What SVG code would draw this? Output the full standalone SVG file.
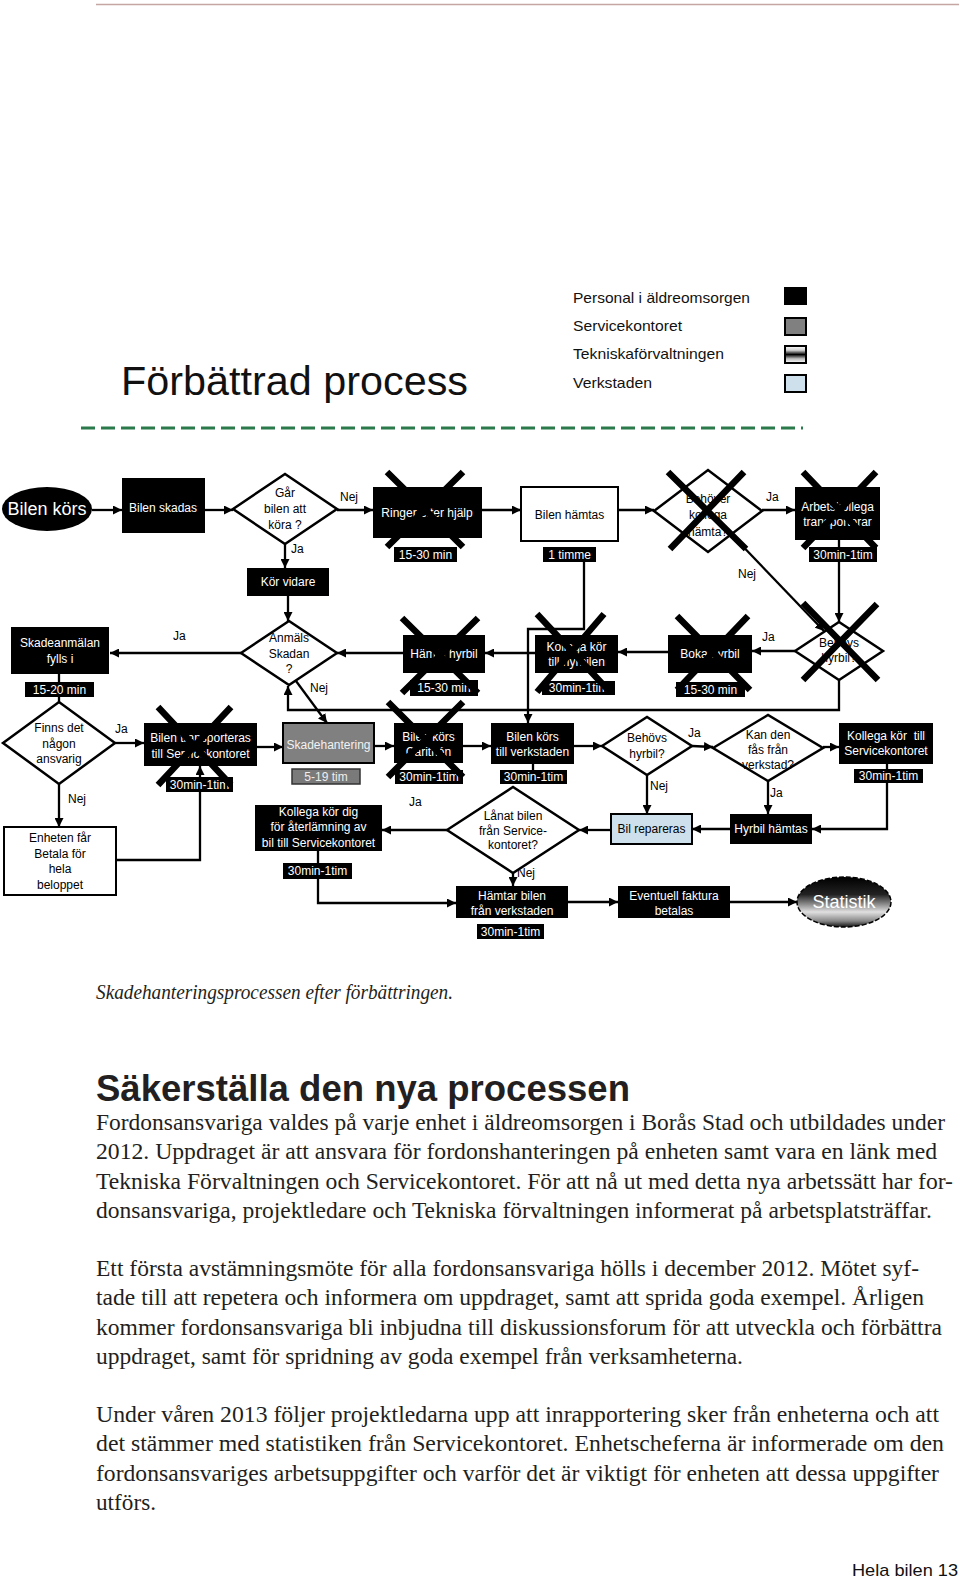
<svg xmlns="http://www.w3.org/2000/svg" width="960" height="1580" viewBox="0 0 960 1580">
<defs>
<style>
.bx{fill:#000}
.wb{fill:#fff;stroke:#000;stroke-width:2}
.dm{fill:#fff;stroke:#000;stroke-width:2.5}
.t{font-family:"Liberation Sans",Arial,sans-serif;font-size:12px;fill:#fff;text-anchor:middle}
.k{font-family:"Liberation Sans",Arial,sans-serif;font-size:12px;fill:#000;text-anchor:middle}
.yl{font-family:"Liberation Sans",Arial,sans-serif;font-size:12px;fill:#000}
.x{stroke:#000;stroke-width:6.5;fill:none}
.c{stroke:#000;stroke-width:2.3;fill:none}
.ca{stroke:#000;stroke-width:2.3;fill:none;marker-end:url(#ah)}
.lg{font-family:"Liberation Sans",Arial,sans-serif;font-size:15px;fill:#111}
.body{font-family:"Liberation Serif","Times New Roman",serif;font-size:22.5px;fill:#231f20}
</style>
<marker id="ah" viewBox="0 0 10 10" refX="10" refY="5" markerWidth="9" markerHeight="9" markerUnits="userSpaceOnUse" orient="auto"><path d="M0,0 L10,5 L0,10 z" fill="#000"/></marker>
<linearGradient id="tek" x1="0" y1="0" x2="0" y2="1"><stop offset="0" stop-color="#ffffff"/><stop offset="0.25" stop-color="#cfcfcf"/><stop offset="0.5" stop-color="#000"/><stop offset="0.75" stop-color="#bdbdbd"/><stop offset="1" stop-color="#ffffff"/></linearGradient>
<linearGradient id="stat" x1="0" y1="0" x2="0" y2="1"><stop offset="0" stop-color="#000"/><stop offset="0.35" stop-color="#222"/><stop offset="0.7" stop-color="#e0e0e0"/><stop offset="0.88" stop-color="#888"/><stop offset="1" stop-color="#111"/></linearGradient>
</defs>
<rect width="960" height="1580" fill="#fff"/>
<line x1="96" y1="4.5" x2="959" y2="4.5" stroke="#c4a6a2" stroke-width="1.3"/>

<g id="title">
<text x="121" y="395" font-family="'Liberation Sans',Arial,sans-serif" font-size="40" fill="#111" textLength="347" lengthAdjust="spacingAndGlyphs">Förbättrad process</text>
</g>
<g id="legend">
<text class="lg" x="573" y="303" textLength="177" lengthAdjust="spacingAndGlyphs">Personal i äldreomsorgen</text>
<rect x="784" y="287" width="23" height="18" fill="#000"/>
<text class="lg" x="573" y="331" textLength="109" lengthAdjust="spacingAndGlyphs">Servicekontoret</text>
<rect x="785" y="318" width="21" height="17" fill="#808080" stroke="#000" stroke-width="2"/>
<text class="lg" x="573" y="359" textLength="151" lengthAdjust="spacingAndGlyphs">Tekniskaförvaltningen</text>
<rect x="785" y="346" width="21" height="17" fill="url(#tek)" stroke="#000" stroke-width="2"/>
<text class="lg" x="573" y="388" textLength="79" lengthAdjust="spacingAndGlyphs">Verkstaden</text>
<rect x="785" y="375" width="21" height="17" fill="#cde0ec" stroke="#000" stroke-width="2"/>
</g>
<line x1="81" y1="428" x2="803" y2="428" stroke="#2b7a4b" stroke-width="3" stroke-dasharray="14 6"/>

<g id="connectors">
<line class="ca" x1="92" y1="510" x2="122" y2="510"/>
<line class="ca" x1="205" y1="510" x2="233" y2="510"/>
<line class="ca" x1="337" y1="510" x2="373" y2="510"/>
<text class="yl" x="340" y="501">Nej</text>
<line class="ca" x1="482" y1="510" x2="521" y2="510"/>
<line class="ca" x1="618" y1="510" x2="654" y2="510"/>
<line class="ca" x1="762" y1="510" x2="795" y2="510"/>
<text class="yl" x="766" y="501">Ja</text>
<line class="ca" x1="839" y1="540" x2="839" y2="622"/>
<line class="ca" x1="731" y1="534" x2="824" y2="631"/>
<text class="yl" x="738" y="578">Nej</text>
<line class="ca" x1="795" y1="651" x2="752" y2="651"/>
<text class="yl" x="762" y="641">Ja</text>
<line class="ca" x1="668" y1="652" x2="618" y2="652"/>
<line class="ca" x1="535" y1="653" x2="485" y2="653"/>
<line class="ca" x1="403" y1="653" x2="337" y2="653"/>
<polyline class="ca" points="839,680 839,710 288,710 288,686"/>
<polyline class="ca" points="584,562 584,629 528,629 528,723"/>
<line class="ca" x1="285" y1="544" x2="285" y2="568"/>
<text class="yl" x="291" y="553">Ja</text>
<line class="ca" x1="288" y1="596" x2="288" y2="621"/>
<line class="ca" x1="241" y1="653" x2="110" y2="653"/>
<text class="yl" x="173" y="640">Ja</text>
<line class="ca" x1="296" y1="681" x2="327" y2="723"/>
<text class="yl" x="310" y="692">Nej</text>
<line class="c" x1="59" y1="674" x2="59" y2="702"/>
<line class="ca" x1="115" y1="743" x2="144" y2="743"/>
<text class="yl" x="115" y="733">Ja</text>
<line class="ca" x1="59" y1="784" x2="59" y2="827"/>
<text class="yl" x="68" y="803">Nej</text>
<polyline class="ca" points="116,860 200,860 200,766"/>
<line class="ca" x1="257" y1="747" x2="283" y2="747"/>
<line class="ca" x1="374" y1="746" x2="394" y2="746"/>
<line class="ca" x1="463" y1="746" x2="491" y2="746"/>
<line class="ca" x1="574" y1="746" x2="602" y2="746"/>
<line class="c" x1="533" y1="764" x2="533" y2="770"/>
<line class="ca" x1="692" y1="746" x2="713" y2="747"/>
<text class="yl" x="688" y="737">Ja</text>
<line class="ca" x1="823" y1="747" x2="839" y2="747"/>
<line class="ca" x1="647" y1="775" x2="647" y2="814"/>
<text class="yl" x="650" y="790">Nej</text>
<line class="ca" x1="768" y1="781" x2="768" y2="814"/>
<text class="yl" x="770" y="797">Ja</text>
<polyline class="ca" points="887,764 887,829 812,829"/>
<line class="ca" x1="730" y1="829" x2="692" y2="829"/>
<line class="ca" x1="611" y1="830" x2="579" y2="830"/>
<line class="ca" x1="447" y1="830" x2="382" y2="830"/>
<text class="yl" x="409" y="806">Ja</text>
<line class="ca" x1="513" y1="873" x2="513" y2="886"/>
<text class="yl" x="517" y="877">Nej</text>
<polyline class="ca" points="318,851 318,903 456,903"/>
<line class="ca" x1="568" y1="902" x2="618" y2="902"/>
<line class="ca" x1="730" y1="902" x2="797" y2="902"/>
</g>

<g id="n-bilen-kors"><ellipse cx="47" cy="509" rx="45" ry="22" fill="#000"/><text class="t" x="47" y="515" style="font-size:18px">Bilen körs</text></g>
<g id="n-bilen-skadas"><rect class="bx" x="122" y="478" width="83" height="55"/><text class="t" x="163" y="512">Bilen skadas</text></g>
<g id="n-gar"><polygon class="dm" points="233,509 285,474 337,509 285,544"/><text class="k" x="285" y="497">Går</text><text class="k" x="285" y="513">bilen att</text><text class="k" x="285" y="529">köra ?</text></g>
<g id="n-ringer"><rect class="bx" x="373" y="487" width="109" height="51"/><text class="t" x="427" y="517">Ringer efter hjälp</text><rect class="bx" x="394" y="547" width="63" height="15"/><text class="t" x="425.5" y="559">15-30 min</text><path class="x" d="M387,472 L463,547 M463,472 L387,547"/></g>
<g id="n-bilen-hamtas"><rect class="wb" x="521" y="487" width="97" height="54"/><text class="k" x="569.5" y="519">Bilen hämtas</text><rect class="bx" x="543" y="547" width="53" height="15"/><text class="t" x="569.5" y="559">1 timme</text></g>
<g id="n-behover"><polygon class="dm" points="654,511 708,470 762,511 708,552"/><text class="k" x="708" y="503">Behöver</text><text class="k" x="708" y="519">kollega</text><text class="k" x="708" y="536">hämta?</text><path class="x" d="M668,472 L746,549 M744,472 L670,549"/></g>
<g id="n-arbetskollega"><rect class="bx" x="795" y="487" width="85" height="53"/><text class="t" x="837.5" y="511">Arbetskollega</text><text class="t" x="837.5" y="526">transporterar</text><rect class="bx" x="809" y="547" width="68" height="15"/><text class="t" x="843" y="559">30min-1tim</text><path class="x" d="M803,472 L876,548 M876,472 L803,548"/></g>
<g id="n-kor-vidare"><rect class="bx" x="247" y="568" width="82" height="28"/><text class="t" x="288" y="586">Kör vidare</text></g>
<g id="n-anmals"><polygon class="dm" points="241,653 289,621 337,653 289,685"/><text class="k" x="289" y="642">Anmäls</text><text class="k" x="289" y="658">Skadan</text><text class="k" x="289" y="673">?</text></g>
<g id="n-skadeanmalan"><rect class="bx" x="11" y="627" width="98" height="47"/><text class="t" x="60" y="647">Skadeanmälan</text><text class="t" x="60" y="663">fylls i</text><rect class="bx" x="25" y="682" width="69" height="15"/><text class="t" x="59.5" y="694">15-20 min</text></g>
<g id="n-hamta-hyrbil"><rect class="bx" x="403" y="635" width="82" height="38"/><text class="t" x="444" y="658">Hämta hyrbil</text><rect class="bx" x="410" y="680" width="68" height="16"/><text class="t" x="444" y="692">15-30 min</text><path class="x" d="M402,618 L478,693 M478,618 L402,693"/></g>
<g id="n-kollega-hyrbil"><rect class="bx" x="535" y="635" width="83" height="38"/><text class="t" x="576.5" y="651">Kollega kör</text><text class="t" x="576.5" y="666">till hyrbilen</text><rect class="bx" x="542" y="681" width="73" height="14"/><text class="t" x="578.5" y="692">30min-1tim</text><path class="x" d="M537,614 L610,692 M604,614 L537,692"/></g>
<g id="n-boka"><rect class="bx" x="668" y="635" width="84" height="38"/><text class="t" x="710" y="658">Boka hyrbil</text><rect class="bx" x="676" y="682" width="69" height="15"/><text class="t" x="710.5" y="694">15-30 min</text><path class="x" d="M677,616 L750,690 M748,616 L677,690"/></g>
<g id="n-behovs-hyrbil-1"><polygon class="dm" points="795,651 839,622 883,651 839,680"/><text class="k" x="839" y="647">Behövs</text><text class="k" x="839" y="662">hyrbil?</text><path class="x" d="M803,603 L878,680 M877,604 L803,680"/></g>
<g id="n-finns"><polygon class="dm" points="3,743 59,702 115,743 59,784"/><text class="k" x="59" y="732">Finns det</text><text class="k" x="59" y="748">någon</text><text class="k" x="59" y="763">ansvarig</text></g>
<g id="n-bilen-transporteras"><rect class="bx" x="144" y="723" width="113" height="43"/><text class="t" x="200.5" y="742">Bilen transporteras</text><text class="t" x="200.5" y="758">till Servicekontoret</text><rect class="bx" x="166" y="777" width="67" height="15"/><text class="t" x="199.5" y="789">30min-1tim</text><path class="x" d="M158,707 L231,785 M231,707 L158,785"/></g>
<g id="n-skadehantering"><rect x="283" y="723" width="91" height="40" fill="#808080" stroke="#000" stroke-width="2"/><text class="t" x="328.5" y="749" style="fill:#f2f2f2">Skadehantering</text><rect x="292" y="769" width="68" height="15" fill="#7a7a7a" stroke="#333" stroke-width="1.5"/><text class="t" x="326" y="781" style="fill:#eee">5-19 tim</text></g>
<g id="n-carithen"><rect class="bx" x="394" y="723" width="69" height="40"/><text class="t" x="428.5" y="741">Bilen körs</text><text class="t" x="428.5" y="756">Carithén</text><rect class="bx" x="395" y="770" width="68" height="14"/><text class="t" x="429" y="781">30min-1tim</text><path class="x" d="M388,702 L463,777 M463,702 L388,777"/></g>
<g id="n-verkstaden"><rect class="bx" x="491" y="723" width="83" height="41"/><text class="t" x="532.5" y="741">Bilen körs</text><text class="t" x="532.5" y="756">till verkstaden</text><rect class="bx" x="500" y="770" width="67" height="14"/><text class="t" x="533.5" y="781">30min-1tim</text></g>
<g id="n-behovs-hyrbil-2"><polygon class="dm" points="602,746 647,717 692,746 647,775"/><text class="k" x="647" y="742">Behövs</text><text class="k" x="647" y="758">hyrbil?</text></g>
<g id="n-kan-den"><polygon class="dm" points="713,748 768,715 823,748 768,781"/><text class="k" x="768" y="739">Kan den</text><text class="k" x="768" y="754">fås från</text><text class="k" x="768" y="769">verkstad?</text></g>
<g id="n-kollega-serv"><rect class="bx" x="839" y="723" width="94" height="41"/><text class="t" x="886" y="740" xml:space="preserve">Kollega kör  till</text><text class="t" x="886" y="755">Servicekontoret</text><rect class="bx" x="854" y="769" width="69" height="14"/><text class="t" x="888.5" y="780">30min-1tim</text></g>
<g id="n-enheten"><rect class="wb" x="4" y="827" width="112" height="68"/><text class="k" x="60" y="842">Enheten får</text><text class="k" x="60" y="858">Betala för</text><text class="k" x="60" y="873">hela</text><text class="k" x="60" y="889">beloppet</text></g>
<g id="n-kollega-dig"><rect class="bx" x="255" y="805" width="127" height="46"/><text class="t" x="318.5" y="816">Kollega kör dig</text><text class="t" x="318.5" y="831">för återlämning av</text><text class="t" x="318.5" y="847">bil till Servicekontoret</text><rect class="bx" x="283" y="863" width="69" height="16"/><text class="t" x="317.5" y="875">30min-1tim</text></g>
<g id="n-lanat"><polygon class="dm" points="447,830 513,787 579,830 513,873"/><text class="k" x="513" y="820">Lånat bilen</text><text class="k" x="513" y="835">från Service-</text><text class="k" x="513" y="849">kontoret?</text></g>
<g id="n-bil-repareras"><rect x="611" y="814" width="81" height="30" fill="#cde0ec" stroke="#000" stroke-width="2"/><text class="k" x="651.5" y="833">Bil repareras</text></g>
<g id="n-hyrbil-hamtas"><rect class="bx" x="730" y="814" width="82" height="30"/><text class="t" x="771" y="833">Hyrbil hämtas</text></g>
<g id="n-hamtar"><rect class="bx" x="456" y="886" width="112" height="32"/><text class="t" x="512" y="900">Hämtar bilen</text><text class="t" x="512" y="915">från verkstaden</text><rect class="bx" x="477" y="924" width="67" height="15"/><text class="t" x="510.5" y="936">30min-1tim</text></g>
<g id="n-eventuell"><rect class="bx" x="618" y="886" width="112" height="32"/><text class="t" x="674" y="900">Eventuell faktura</text><text class="t" x="674" y="915">betalas</text></g>
<g id="n-statistik"><ellipse cx="844" cy="902" rx="47" ry="25" fill="url(#stat)" stroke="#000" stroke-width="1.5" stroke-dasharray="5 2"/><text class="t" x="844" y="908" style="font-size:18px">Statistik</text></g>

<g id="text">
<text x="96" y="999" font-family="'Liberation Serif','Times New Roman',serif" font-style="italic" font-size="20" fill="#231f20" textLength="357" lengthAdjust="spacingAndGlyphs">Skadehanteringsprocessen efter förbättringen.</text>
<text x="96" y="1101" font-family="'Liberation Sans',Arial,sans-serif" font-weight="bold" font-size="36" fill="#231f20" textLength="534" lengthAdjust="spacingAndGlyphs">Säkerställa den nya processen</text>
<text class="body" x="96" y="1130" textLength="849" lengthAdjust="spacingAndGlyphs">Fordonsansvariga valdes på varje enhet i äldreomsorgen i Borås Stad och utbildades under</text>
<text class="body" x="96" y="1159" textLength="841" lengthAdjust="spacingAndGlyphs">2012. Uppdraget är att ansvara för fordonshanteringen på enheten samt vara en länk med</text>
<text class="body" x="96" y="1189" textLength="857" lengthAdjust="spacingAndGlyphs">Tekniska Förvaltningen och Servicekontoret. För att nå ut med detta nya arbetssätt har for-</text>
<text class="body" x="96" y="1218" textLength="836" lengthAdjust="spacingAndGlyphs">donsansvariga, projektledare och Tekniska förvaltningen informerat på arbetsplatsträffar.</text>
<text class="body" x="96" y="1276" textLength="823" lengthAdjust="spacingAndGlyphs">Ett första avstämningsmöte för alla fordonsansvariga hölls i december 2012. Mötet syf-</text>
<text class="body" x="96" y="1305" textLength="828" lengthAdjust="spacingAndGlyphs">tade till att repetera och informera om uppdraget, samt att sprida goda exempel. Årligen</text>
<text class="body" x="96" y="1335" textLength="846" lengthAdjust="spacingAndGlyphs">kommer fordonsansvariga bli inbjudna till diskussionsforum för att utveckla och förbättra</text>
<text class="body" x="96" y="1364" textLength="647" lengthAdjust="spacingAndGlyphs">uppdraget, samt för spridning av goda exempel från verksamheterna.</text>
<text class="body" x="96" y="1422" textLength="843" lengthAdjust="spacingAndGlyphs">Under våren 2013 följer projektledarna upp att inrapportering sker från enheterna och att</text>
<text class="body" x="96" y="1451" textLength="848" lengthAdjust="spacingAndGlyphs">det stämmer med statistiken från Servicekontoret. Enhetscheferna är informerade om den</text>
<text class="body" x="96" y="1481" textLength="843" lengthAdjust="spacingAndGlyphs">fordonsansvariges arbetsuppgifter och varför det är viktigt för enheten att dessa uppgifter</text>
<text class="body" x="96" y="1510" textLength="60" lengthAdjust="spacingAndGlyphs">utförs.</text>
<text x="852" y="1576" font-family="'Liberation Sans',Arial,sans-serif" font-size="17" fill="#111" textLength="106" lengthAdjust="spacingAndGlyphs">Hela bilen 13</text>
</g>
</svg>
